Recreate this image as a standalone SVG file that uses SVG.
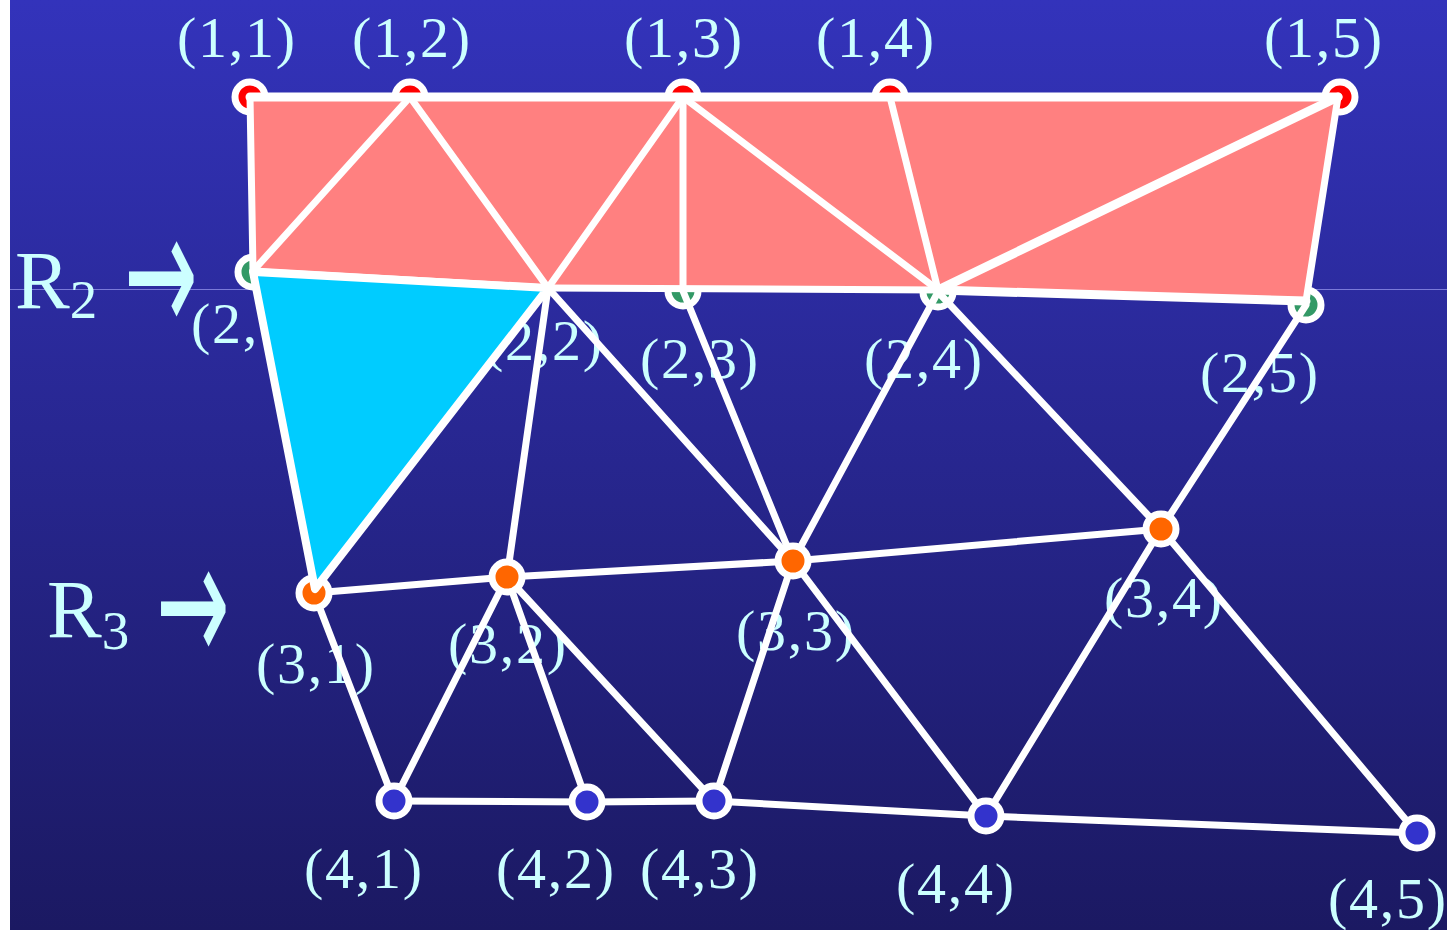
<svg xmlns="http://www.w3.org/2000/svg" width="1447" height="930" viewBox="0 0 1447 930">
<defs>
<linearGradient id="bg" x1="0" y1="0" x2="0" y2="1">
<stop offset="0" stop-color="#3333bb"/>
<stop offset="1" stop-color="#1b1962"/>
</linearGradient>
</defs>
<style>
.lbl{font-family:"Liberation Serif","Times New Roman",serif;font-size:58px;fill:#ccffff;text-anchor:middle}
.rl{font-family:"Liberation Serif","Times New Roman",serif;font-size:82px;fill:#ccffff}
.arr{font-family:"DejaVu Sans",sans-serif;font-size:80px;fill:#ccffff}
.e{stroke:#ffffff;stroke-width:7;stroke-linecap:round;fill:none}
.ew{stroke:#ffffff;stroke-width:9;stroke-linecap:round;fill:none}
.nd{stroke:#ffffff;stroke-width:7}
.r{fill:#ff0000}.g{fill:#339966}.o{fill:#ff6600}.b{fill:#3333cc}
</style>
<rect x="0" y="0" width="1447" height="930" fill="url(#bg)"/>
<rect x="0" y="0" width="10" height="930" fill="#ffffff"/>
<line x1="10" y1="289.5" x2="1447" y2="289.5" stroke="#7a7ad8" stroke-width="1"/>

<g id="row-labels">
<text class="rl" x="15" y="308">R<tspan font-size="55" dy="10">2</tspan></text>
<text class="arr" transform="translate(124,334) scale(1.1,2.2)">→</text>
<text class="rl" x="47" y="637">R<tspan font-size="55" dy="12">3</tspan></text>
<text class="arr" transform="translate(156,664) scale(1.1,2.2)">→</text>
</g>

<g id="labels">
<text class="lbl" x="236" y="57" textLength="118">(1,1)</text>
<text class="lbl" x="411" y="57" textLength="118">(1,2)</text>
<text class="lbl" x="683" y="57" textLength="118">(1,3)</text>
<text class="lbl" x="875" y="57" textLength="118">(1,4)</text>
<text class="lbl" x="1323" y="57" textLength="118">(1,5)</text>
<text class="lbl" x="250" y="343" textLength="118">(2,1)</text>
<text class="lbl" x="543" y="360" textLength="118">(2,2)</text>
<text class="lbl" x="699" y="378" textLength="118">(2,3)</text>
<text class="lbl" x="923" y="378" textLength="118">(2,4)</text>
<text class="lbl" x="1259" y="392" textLength="118">(2,5)</text>
<text class="lbl" x="315" y="683" textLength="118">(3,1)</text>
<text class="lbl" x="507" y="663" textLength="118">(3,2)</text>
<text class="lbl" x="795" y="650" textLength="118">(3,3)</text>
<text class="lbl" x="1163" y="617" textLength="118">(3,4)</text>
<text class="lbl" x="363" y="888" textLength="118">(4,1)</text>
<text class="lbl" x="555" y="888" textLength="118">(4,2)</text>
<text class="lbl" x="699" y="888" textLength="118">(4,3)</text>
<text class="lbl" x="955" y="903" textLength="118">(4,4)</text>
<text class="lbl" x="1387" y="918" textLength="118">(4,5)</text>
</g>

<g id="n11"><circle class="nd r" cx="250" cy="97" r="15"/></g>
<g id="n12"><circle class="nd r" cx="410" cy="97" r="15"/></g>
<g id="n13"><circle class="nd r" cx="683" cy="97" r="15"/></g>
<g id="n14"><circle class="nd r" cx="890" cy="97" r="15"/></g>
<g id="n15"><circle class="nd r" cx="1340" cy="97" r="15"/></g>
<g id="n21"><circle class="nd g" cx="253" cy="272" r="15"/></g>
<g id="n23"><circle class="nd g" cx="683" cy="291" r="15"/></g>
<g id="n24"><circle class="nd g" cx="938" cy="292" r="15"/></g>
<g id="n25"><circle class="nd g" cx="1306" cy="305" r="15"/></g>

<g id="region-r2">
<polygon points="250,97 1338,97 1306,301 938,290 683,289 548,288 253,271" fill="#ff8080"/>
</g>

<g id="connectors">
<line class="ew" x1="250" y1="97" x2="1338" y2="97"/>
<line class="e" x1="250" y1="97" x2="253" y2="271"/>
<line class="e" x1="410" y1="97" x2="253" y2="271"/>
<line class="e" x1="410" y1="97" x2="548" y2="288"/>
<line class="e" x1="683" y1="97" x2="548" y2="288"/>
<line class="e" x1="683" y1="97" x2="683" y2="289"/>
<line class="e" x1="683" y1="97" x2="938" y2="290"/>
<line class="e" x1="890" y1="97" x2="938" y2="290"/>
<line class="ew" x1="1338" y1="97" x2="938" y2="290"/>
<line class="e" x1="1338" y1="97" x2="1306" y2="301"/>
<line class="e" x1="253" y1="271" x2="548" y2="288"/>
<line class="e" x1="548" y1="288" x2="938" y2="290"/>
<line class="ew" x1="938" y1="290" x2="1306" y2="301"/>
<line class="e" x1="548" y1="288" x2="507" y2="577"/>
<line class="e" x1="548" y1="288" x2="793" y2="561"/>
<line class="e" x1="683" y1="291" x2="793" y2="561"/>
<line class="e" x1="938" y1="292" x2="793" y2="561"/>
<line class="e" x1="938" y1="292" x2="1161" y2="529"/>
<line class="e" x1="1306" y1="305" x2="1161" y2="529"/>
<line class="e" x1="314" y1="593" x2="507" y2="577"/>
<line class="e" x1="507" y1="577" x2="793" y2="561"/>
<line class="e" x1="793" y1="561" x2="1161" y2="529"/>
<line class="e" x1="314" y1="593" x2="394" y2="801"/>
<line class="e" x1="507" y1="577" x2="394" y2="801"/>
<line class="e" x1="507" y1="577" x2="587" y2="802"/>
<line class="e" x1="507" y1="577" x2="714" y2="801"/>
<line class="e" x1="793" y1="561" x2="714" y2="801"/>
<line class="e" x1="793" y1="561" x2="986" y2="816"/>
<line class="e" x1="1161" y1="529" x2="986" y2="816"/>
<line class="e" x1="1161" y1="529" x2="1417" y2="833"/>
<line class="e" x1="394" y1="801" x2="587" y2="802"/>
<line class="e" x1="587" y1="802" x2="714" y2="801"/>
<line class="e" x1="714" y1="801" x2="986" y2="816"/>
<line class="e" x1="986" y1="816" x2="1417" y2="833"/>
</g>

<g id="n31"><circle class="nd o" cx="314" cy="593" r="15"/></g>

<g id="region-r3">
<polygon points="253,272 548,288 315,589" fill="#00ccff" stroke="#ffffff" stroke-width="8" stroke-linejoin="round"/>
</g>

<g id="n32"><circle class="nd o" cx="507" cy="577" r="15"/></g>
<g id="n33"><circle class="nd o" cx="793" cy="561" r="15"/></g>
<g id="n34"><circle class="nd o" cx="1161" cy="529" r="15"/></g>
<g id="n41"><circle class="nd b" cx="394" cy="801" r="15"/></g>
<g id="n42"><circle class="nd b" cx="587" cy="802" r="15"/></g>
<g id="n43"><circle class="nd b" cx="714" cy="801" r="15"/></g>
<g id="n44"><circle class="nd b" cx="986" cy="816" r="15"/></g>
<g id="n45"><circle class="nd b" cx="1417" cy="833" r="15"/></g>
</svg>
